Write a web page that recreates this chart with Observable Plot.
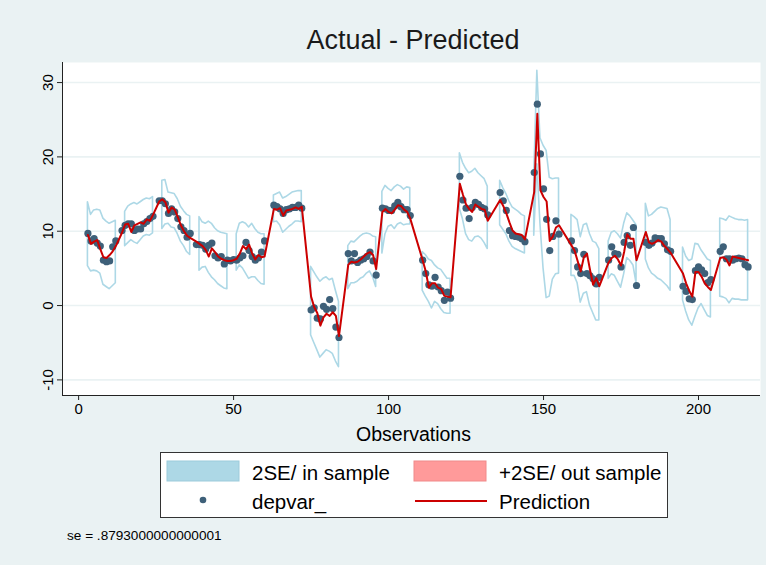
<!DOCTYPE html>
<html><head><meta charset="utf-8">
<script src="https://cdn.jsdelivr.net/npm/d3@7"></script>
<script src="https://cdn.jsdelivr.net/npm/@observablehq/plot@0.6"></script>
<style>
html,body{margin:0;padding:0;background:#eaf2f3;}
#wrap{width:766px;height:565px;background:#eaf2f3;font-family:"Liberation Sans",Arial,Helvetica,sans-serif;color:#000;position:relative;overflow:hidden}
#title{position:absolute;left:62px;width:702px;top:24px;text-align:center;font-size:27px;line-height:32px;color:#1a1a1a}
#chart{position:absolute;left:0;top:52px}
#legend{position:absolute;left:160px;top:452px;width:506px;height:64px;background:#fff;border:1px solid #333}
#legend svg{display:block}
#caption{position:absolute;left:67px;top:528px;font-size:13.6px;line-height:16px}
</style></head>
<body>
<div id="wrap">
  <div id="title">Actual - Predicted</div>
  <div id="chart"></div>
  <div id="legend">
    <svg width="506" height="64" font-family="Liberation Sans, Arial, sans-serif" font-size="20.5">
      <rect x="6" y="8" width="72" height="20" fill="#add8e6" stroke="#9ccbdb"/>
      <text x="91" y="19" dominant-baseline="central">2SE/ in sample</text>
      <rect x="253" y="8" width="72" height="20" fill="#ff9a9a" stroke="#f08a8a"/>
      <text x="338" y="19" dominant-baseline="central">+2SE/ out sample</text>
      <circle cx="42" cy="47" r="3.3" fill="#3e6079"/>
      <text x="91" y="48" dominant-baseline="central">depvar_</text>
      <line x1="254" x2="326" y1="48" y2="48" stroke="#cc0000" stroke-width="2"/>
      <text x="338" y="48" dominant-baseline="central">Prediction</text>
    </svg>
  </div>
  <div id="caption">se = .8793000000000001</div>
</div>
<script>
// ---- data ----
const obs = [
  3,4,5,6,7,8,9,10,11,12,
  14,
  15,16,17,18,19,20,21,22,23,24,
  26,
  27,28,29,30,31,32,33,34,35,36,
  38,
  39,40,41,42,43,44,45,46,47,48,
  49,50,
  51,52,53,54,55,56,57,58,59,60,
  63,64,65,66,67,68,69,70,71,72,
  75,76,77,78,79,80,81,82,83,84,
  87,88,89,90,91,92,93,94,95,96,
  98,99,100,101,102,103,104,105,106,107,
  111,112,113,114,115,116,117,118,119,120,
  123,124,125,126,127,128,129,130,131,132,
  136,137,138,139,140,141,142,143,144,
  147,148,149,150,151,152,153,154,155,
  159,160,161,162,163,164,165,166,167,168,
  171,172,173,174,175,176,177,178,179,180,
  183,184,185,186,187,188,189,190,191,
  195,196,197,198,199,200,201,202,203,204,
  207,208,209,210,211,212,213,214,215,216
];
const depvar = [
  9.7,8.7,9.0,8.4,8.0,6.1,5.9,6.0,7.9,8.7,
  10.1,
  10.8,11.0,11.0,10.1,10.3,10.3,11.0,11.3,11.7,12.0,
  14.1,
  14.1,13.7,12.4,13.0,12.6,11.7,10.6,10.1,9.2,9.7,
  8.2,
  8.2,8.1,7.6,8.1,8.4,6.7,6.4,6.6,5.6,6.1,
  6.0,6.2,
  6.1,6.4,6.7,8.5,7.4,6.6,6.1,6.4,7.2,8.7,
  13.5,13.3,13.0,12.4,12.9,13.0,13.2,13.2,13.5,13.1,
  -0.6,-0.3,-1.7,-1.8,-0.1,-0.5,0.8,-0.4,-2.9,-4.3,
  7.0,6.0,7.0,5.8,6.1,6.3,6.6,7.2,6.0,4.1,
  13.1,13.0,12.8,12.8,13.4,13.9,13.3,12.9,12.9,12.1,
  6.1,4.3,2.8,2.6,3.8,2.5,2.0,0.7,1.8,1.0,
  17.4,14.2,13.1,11.7,13.2,13.9,13.6,13.2,13.0,12.2,
  15.2,14.1,12.8,10.1,9.4,9.3,9.2,9.0,8.6,
  17.9,27.1,20.4,15.7,11.6,7.4,9.3,11.4,9.6,
  8.7,7.4,5.2,4.3,6.9,4.3,4.0,3.6,2.9,3.8,
  6.1,7.9,7.0,6.9,5.2,8.5,9.4,8.1,10.5,2.7,
  8.5,8.1,8.4,9.1,9.0,9.0,8.3,7.5,7.3,
  2.6,1.9,0.9,0.8,4.7,5.2,4.8,4.3,3.1,3.5,
  7.3,7.9,6.3,6.3,6.1,6.3,6.4,6.3,5.5,5.2
];
const prediction = [
  9.5,8.3,8.6,8.8,7.6,6.5,6.4,6.8,7.3,8.0,
  9.8,
  10.9,11.0,9.9,10.8,11.0,11.2,11.0,11.6,11.4,12.2,
  14.0,
  14.3,13.9,12.5,13.2,12.9,11.9,10.8,10.0,9.4,9.1,
  8.6,
  8.3,8.0,7.5,6.6,7.7,7.2,6.6,6.3,6.1,6.0,
  6.0,6.1,
  6.3,7.0,8.0,7.6,8.2,7.0,6.2,6.8,6.5,6.6,
  13.0,12.9,13.1,12.1,12.8,12.9,13.0,13.2,13.0,13.3,
  1.2,-0.2,-1.0,-2.7,-1.6,-1.1,-1.4,-0.9,-1.4,-4.1,
  5.5,5.9,5.8,5.9,6.2,6.6,7.0,7.2,6.8,4.9,
  12.6,13.0,12.6,12.4,12.9,13.5,13.4,12.9,12.6,11.7,
  6.1,4.6,2.4,3.0,3.0,2.4,2.2,1.3,1.2,1.1,
  16.4,14.9,13.6,13.0,12.6,13.6,13.3,13.0,12.9,11.4,
  14.2,13.4,12.4,11.2,10.1,9.7,9.6,9.5,8.9,
  15.3,25.8,15.5,14.6,14.0,8.7,9.3,10.5,10.8,
  8.1,7.4,6.0,4.6,6.5,7.0,4.8,2.8,3.7,2.6,
  5.8,6.4,6.7,6.2,5.4,7.2,9.6,9.0,9.0,6.1,
  9.9,8.5,8.3,8.5,8.8,8.6,8.0,7.6,7.1,
  4.3,3.0,2.0,1.2,4.5,4.5,3.9,3.0,2.5,2.1,
  6.4,6.5,6.2,5.4,6.6,6.5,6.4,6.3,6.2,6.1
];
// in-sample 2SE band (null = no band at that observation)
const upper = [
  13.9,12.2,12.8,12.9,12.8,11.7,11.3,11.0,11.2,11.4,
  null,
  12.6,13.3,13.6,13.8,13.6,13.9,14.2,14.4,14.3,14.6,
  null,
  16.8,16.9,15.2,15.1,15.0,14.3,13.3,12.7,12.2,12.0,
  null,
  11.9,11.2,11.0,11.3,11.0,10.4,10.0,9.8,9.7,9.6,
  null,null,
  9.6,11.0,11.2,11.0,10.5,11.0,10.3,9.8,9.6,9.6,
  14.8,15.0,15.2,14.4,14.6,14.9,15.2,15.3,15.4,15.4,
  5.2,4.5,3.8,3.2,3.6,3.8,3.4,3.6,2.0,0.5,
  8.0,8.6,8.5,8.9,9.3,9.6,9.7,9.6,9.3,9.2,
  15.3,16.1,15.7,15.4,15.9,16.2,16.0,15.6,15.9,15.8,
  7.2,6.8,6.2,6.0,5.4,5.0,4.8,4.2,3.6,3.6,
  20.5,19.2,18.4,17.8,18.0,18.4,17.8,17.4,17.0,16.0,
  16.8,15.8,15.0,14.0,13.2,12.9,12.6,12.2,12.0,
  17.5,31.6,22.5,21.5,20.8,17.2,17.0,17.1,17.1,
  12.2,11.9,11.5,9.2,10.8,11.0,9.6,8.6,8.4,7.6,
  8.6,9.8,10.0,9.6,9.0,11.0,12.4,12.0,11.4,10.8,
  13.7,12.0,12.2,12.6,13.0,13.2,13.1,13.0,11.5,
  7.8,6.6,6.0,6.2,8.3,8.2,7.4,6.8,6.2,6.0,
  11.7,11.6,11.4,12.0,11.8,11.6,11.5,11.5,11.4,11.5
];
const lower = [
  5.3,4.6,4.7,4.6,4.3,2.8,2.5,2.2,2.6,3.0,
  null,
  8.0,8.4,8.8,8.5,8.3,8.8,9.3,9.5,9.4,9.7,
  null,
  10.3,10.9,11.0,10.5,10.4,9.6,8.6,8.0,7.2,6.8,
  null,
  4.7,5.1,5.2,4.4,3.8,3.4,2.9,2.6,2.3,2.2,
  null,null,
  4.7,5.4,5.0,4.3,3.6,3.8,3.8,3.3,2.9,2.8,
  11.2,11.3,10.8,9.8,10.2,10.6,10.9,11.3,11.3,11.2,
  -4.0,-5.0,-6.0,-7.0,-6.5,-6.0,-6.2,-6.5,-7.5,-8.3,
  2.2,3.0,3.0,3.2,3.6,3.8,4.3,4.6,3.8,2.5,
  7.0,9.6,10.6,10.8,10.3,10.9,11.1,10.8,10.9,10.9,
  2.0,1.2,0.5,-0.4,0.5,0.2,-0.5,-1.0,-1.1,-1.1,
  13.0,11.6,9.6,8.8,8.6,9.2,9.3,9.0,8.4,7.6,
  10.8,10.2,9.6,8.6,7.9,7.6,7.4,7.2,7.0,
  9.4,19.0,11.0,5.0,1.0,1.2,3.5,4.2,4.3,
  4.0,4.0,3.0,0.4,1.6,1.8,0.0,-1.0,-2.0,-2.0,
  3.6,4.2,4.0,3.2,2.4,4.2,6.4,6.0,5.4,3.0,
  6.2,5.0,4.3,4.0,3.6,3.4,3.0,2.6,2.0,
  0.7,-0.8,-2.0,-2.7,-1.5,-0.4,0.2,-0.6,-1.4,-1.6,
  1.2,1.1,0.9,0.3,0.9,0.8,0.8,0.7,0.7,0.7
];
const xTicks = [0, 50, 100, 150, 200];
const yTicks = [-10, 0, 10, 20, 30];

// ---- build table ----
const rows = obs.map((x, i) => ({x, dep: depvar[i], pred: prediction[i], up: upper[i], lo: lower[i]}));
let seg = 0;
rows.forEach((r, i) => {
  if (r.up == null) { r.seg = null; return; }
  const p = rows[i - 1];
  if (!p || p.up == null || r.x - p.x !== 1) seg++;
  r.seg = seg;
});
const bandRows = rows.filter(r => r.up != null);

const xMin = -5.2, xMax = 220, yMin = -12.1, yMax = 32.7;

const chart = Plot.plot({
  width: 766, height: 398,
  marginLeft: 62, marginRight: 6, marginTop: 10, marginBottom: 55,
  style: {background: "transparent", fontFamily: "Liberation Sans, Arial, sans-serif", fontSize: "15px", color: "#000"},
  x: {domain: [xMin, xMax]},
  y: {domain: [yMin, yMax]},
  marks: [
    Plot.frame({fill: "#fff", stroke: null}),
    Plot.gridY(yTicks, {stroke: "#eaf2f3", strokeOpacity: 1, strokeWidth: 1.6}),
    Plot.areaY(bandRows, {x: "x", y1: "lo", y2: "up", z: "seg", fill: "none", stroke: "#add8e6", strokeWidth: 1.6}),
    Plot.dot(rows, {x: "x", y: "dep", r: 3.6, fill: "#3e6079", stroke: null}),
    Plot.lineY(rows, {x: "x", y: "pred", stroke: "#cc0000", strokeWidth: 2}),
    Plot.ruleX([xMin], {stroke: "#222", strokeWidth: 1}),
    Plot.ruleY([yMin], {stroke: "#222", strokeWidth: 1}),
    Plot.axisX({ticks: xTicks, tickSize: 5, tickPadding: 3, label: null, fontSize: 15, stroke: "#222"}),
    Plot.axisY({ticks: yTicks, tickSize: 5, tickFormat: () => "", label: null, stroke: "#222"}),
    Plot.text(yTicks, {x: xMin, y: d => d, text: d => String(d), rotate: -90, dx: -14, textAnchor: "middle", lineAnchor: "middle", fontSize: 15}),
    Plot.text(["Observations"], {frameAnchor: "bottom", dy: 39, dx: 2, fontSize: 19.5, lineAnchor: "middle"})
  ]
});
document.getElementById("chart").appendChild(chart);
</script>
</body></html>
